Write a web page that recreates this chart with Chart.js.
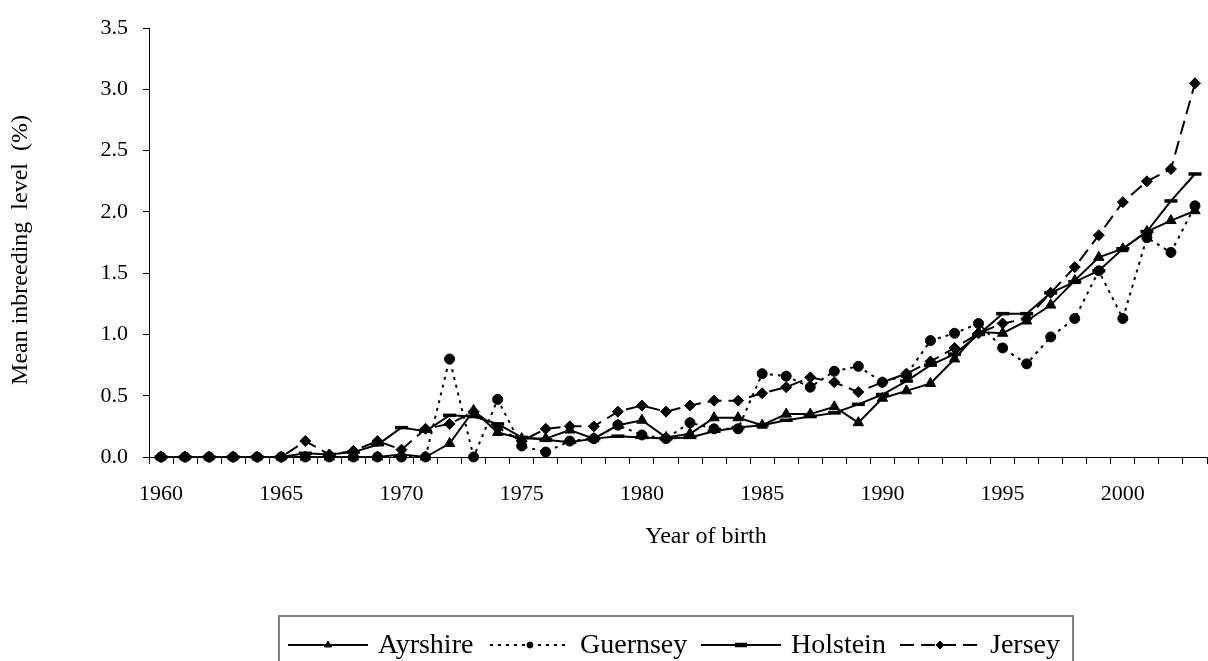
<!DOCTYPE html>
<html>
<head>
<meta charset="utf-8">
<script src="https://cdn.jsdelivr.net/npm/chart.js@4/dist/chart.umd.min.js"></script>
<style>
  html, body { margin: 0; padding: 0; background: #fff; }
  #wrap { width: 1208px; height: 661px; }
</style>
</head>
<body>
<div id="wrap"><canvas id="myChart" width="1208" height="661"></canvas></div>
<script>
const years = [];
for (let y = 1960; y <= 2003; y++) years.push(y);

const ayrshire = [0, 0, 0, 0, 0, 0, 0, 0, 0, 0,
  0.02, 0, 0.11, 0.38, 0.20, 0.15, 0.15, 0.22, 0.15, 0.26,
  0.30, 0.16, 0.19, 0.32, 0.32, 0.26, 0.35, 0.35, 0.41, 0.28,
  0.48, 0.54, 0.60, 0.80, 1.02, 1.01, 1.11, 1.24, 1.44, 1.63,
  1.70, 1.84, 1.93, 2.01];
const guernsey = [0, 0, 0, 0, 0, 0, 0, 0, 0, 0,
  0, 0, 0.80, 0, 0.47, 0.09, 0.04, 0.13, 0.15, 0.26,
  0.18, 0.15, 0.28, 0.23, 0.23, 0.68, 0.66, 0.57, 0.70, 0.74,
  0.61, 0.67, 0.95, 1.01, 1.09, 0.89, 0.76, 0.98, 1.13, 1.52,
  1.13, 1.79, 1.67, 2.05];
const holstein = [0, 0, 0, 0, 0, 0, 0.03, 0.02, 0.04, 0.10,
  0.24, 0.21, 0.34, 0.33, 0.27, 0.16, 0.14, 0.12, 0.15, 0.17,
  0.16, 0.15, 0.16, 0.21, 0.24, 0.26, 0.30, 0.33, 0.36, 0.43,
  0.51, 0.62, 0.75, 0.84, 1.00, 1.17, 1.17, 1.34, 1.43, 1.52,
  1.70, 1.84, 2.09, 2.31];
const jersey = [0, 0, 0, 0, 0, 0, 0.13, 0.02, 0.05, 0.13,
  0.06, 0.23, 0.27, 0.37, 0.24, 0.13, 0.23, 0.25, 0.25, 0.37,
  0.42, 0.37, 0.42, 0.46, 0.46, 0.52, 0.57, 0.65, 0.61, 0.53,
  0.61, 0.68, 0.78, 0.89, 1.01, 1.09, 1.13, 1.34, 1.55, 1.81,
  2.08, 2.25, 2.35, 3.05];

const serif = '"Liberation Serif", "Times New Roman", serif';

function series(label, data, style, radius, dash, pointBorder) {
  return {
    label, data,
    borderColor: "#000",
    backgroundColor: "#000",
    borderWidth: 2,
    borderDash: dash,
    tension: 0,
    pointStyle: style,
    pointRadius: radius,
    pointHoverRadius: radius,
    pointBorderWidth: pointBorder,
    pointBackgroundColor: "#000",
    pointBorderColor: "#000",
    clip: false,
  };
}

// axis titles and the boxed legend along the bottom
const extras = {
  id: "extras",
  afterDraw(chart) {
    const ctx = chart.ctx;
    ctx.save();
    ctx.fillStyle = "#000";
    ctx.font = "24px " + serif;
    ctx.textAlign = "center";
    ctx.textBaseline = "middle";
    ctx.fillText("Year of birth", 706, 537);
    ctx.save();
    ctx.translate(21, 250);
    ctx.rotate(-Math.PI / 2);
    ctx.fillText("Mean inbreeding  level  (%)", 0, 0);
    ctx.restore();

    // legend frame
    ctx.strokeStyle = "#7f7f7f";
    ctx.lineWidth = 2;
    ctx.strokeRect(279, 616, 794, 70);

    const starts = [288, 490, 701, 900];
    const marks = [
      { pointStyle: "triangle", radius: 4, borderWidth: 1, lw: 1 },
      { pointStyle: "circle", radius: 3, borderWidth: 1, lw: 1 },
      { pointStyle: "line", radius: 6, borderWidth: 4, lw: 4.5 },
      { pointStyle: "rectRot", radius: 4, borderWidth: 1, lw: 1 },
    ];
    const ly = 645;
    ctx.font = "28px " + serif;
    ctx.textAlign = "left";
    ctx.textBaseline = "alphabetic";
    chart.data.datasets.forEach((ds, i) => {
      const x0 = starts[i];
      ctx.save();
      ctx.strokeStyle = "#000";
      ctx.lineWidth = 2;
      ctx.setLineDash(ds.borderDash || []);
      ctx.beginPath();
      ctx.moveTo(x0, ly);
      ctx.lineTo(x0 + 80, ly);
      ctx.stroke();
      ctx.restore();
      ctx.save();
      ctx.fillStyle = "#000";
      ctx.strokeStyle = "#000";
      ctx.lineWidth = marks[i].lw;
      Chart.helpers.drawPoint(ctx, Object.assign({ rotation: 0 }, marks[i]), x0 + 40, ly);
      ctx.restore();
      ctx.fillStyle = "#000";
      ctx.fillText(ds.label, x0 + 90, 653);
    });
    ctx.restore();
  },
};

new Chart(document.getElementById("myChart").getContext("2d"), {
  type: "line",
  data: {
    labels: years.map(String),
    datasets: [
      series("Ayrshire", ayrshire, "triangle", 6, [], 1),
      series("Guernsey", guernsey, "circle", 5, [3, 5], 1),
      series("Holstein", holstein, "line", 6.5, [], 3.5),
      series("Jersey", jersey, "rectRot", 5.5, [14, 7], 1),
    ],
  },
  options: {
    responsive: false,
    animation: false,
    layout: { autoPadding: false, padding: { top: 19, right: 1, bottom: 0, left: 0 } },
    plugins: {
      legend: { display: false },
      tooltip: { enabled: false },
    },
    scales: {
      x: {
        type: "category",
        offset: true,
        afterFit(scale) {
          scale.height = 204;
          scale.paddingLeft = 0;
          scale.paddingRight = 0;
        },
        grid: {
          offset: true,
          drawOnChartArea: false,
          drawTicks: true,
          tickLength: 7,
          color: "#000",
        },
        border: { color: "#000", width: 1 },
        ticks: {
          autoSkip: false,
          maxRotation: 0,
          padding: 17,
          color: "#000",
          font: { family: serif, size: 22 },
          callback: (v, i) => (years[i] % 5 === 0 ? String(years[i]) : ""),
        },
      },
      y: {
        min: 0,
        max: 3.5,
        afterFit(scale) { scale.width = 149; },
        grid: {
          drawOnChartArea: false,
          drawTicks: true,
          tickLength: 6,
          color: "#000",
        },
        border: { color: "#000", width: 1 },
        ticks: {
          stepSize: 0.5,
          padding: 15,
          color: "#000",
          font: { family: serif, size: 22 },
          callback: (v) => Number(v).toFixed(1),
        },
      },
    },
  },
  plugins: [extras],
});
</script>
</body>
</html>
